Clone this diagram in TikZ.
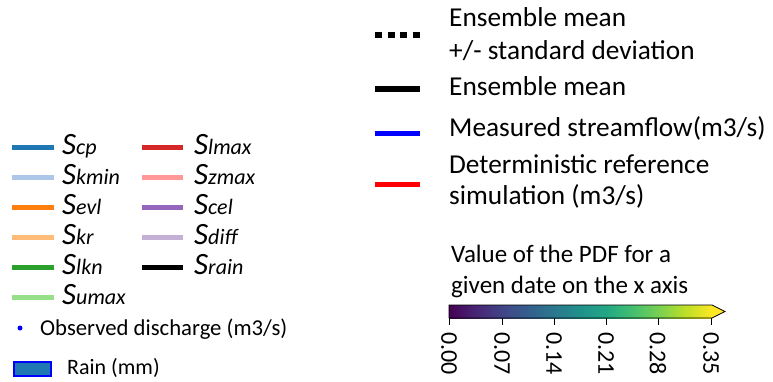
\documentclass[tikz,border=0pt]{standalone}
\usepackage{fontspec}
\setmainfont{Carlito}
\definecolor{vA}{HTML}{440154}
\definecolor{vB}{HTML}{482475}
\definecolor{vC}{HTML}{414487}
\definecolor{vD}{HTML}{355F8D}
\definecolor{vE}{HTML}{2A788E}
\definecolor{vF}{HTML}{21918C}
\definecolor{vG}{HTML}{22A884}
\definecolor{vH}{HTML}{44BF70}
\definecolor{vI}{HTML}{7AD151}
\definecolor{vJ}{HTML}{BDDF26}
\definecolor{vK}{HTML}{FDE725}
\pgfdeclarehorizontalshading{viridis}{100bp}{
 color(0bp)=(vA); color(25bp)=(vA); color(30bp)=(vB); color(35bp)=(vC); color(40bp)=(vD);
 color(45bp)=(vE); color(50bp)=(vF); color(55bp)=(vG); color(60bp)=(vH);
 color(65bp)=(vI); color(70bp)=(vJ); color(75bp)=(vK); color(100bp)=(vK)}
\definecolor{cScp}{HTML}{1F77B4}
\definecolor{cSkmin}{HTML}{AEC7E8}
\definecolor{cSevl}{HTML}{FF7F0E}
\definecolor{cSkr}{HTML}{FFBB78}
\definecolor{cSlkn}{HTML}{2CA02C}
\definecolor{cSumax}{HTML}{98DF8A}
\definecolor{cSlmax}{HTML}{D62728}
\definecolor{cSzmax}{HTML}{FF9896}
\definecolor{cScel}{HTML}{9467BD}
\definecolor{cSdiff}{HTML}{C5B0D5}
\definecolor{measblue}{HTML}{0000FF}
\definecolor{detred}{HTML}{FF0000}
\newcommand{\slab}[2]{{\fontsize{31}{31}\selectfont\itshape #1}{\fontsize{22}{22}\selectfont\itshape #2}}
\begin{document}
\begin{tikzpicture}[x=1pt,y=-1pt,
  lbl/.style={anchor=base west,inner sep=0pt},
  bigtxt/.style={lbl,font=\fontsize{27.3}{30}\selectfont},
  cbtxt/.style={lbl,font=\fontsize{25}{30}\selectfont},
  smtxt/.style={lbl,font=\fontsize{22.7}{26}\selectfont},
  raintxt/.style={lbl,font=\fontsize{22}{26}\selectfont},
  keyline/.style={line width=5pt},
  tick/.style={font=\fontsize{24}{24}\selectfont,rotate=-90,anchor=west,inner sep=0pt}]
\useasboundingbox (0,0) rectangle (773,381);
% right legend
\coordinate (d1) at (375,35); \coordinate (d2) at (420,35);
\draw[line width=6pt,dash pattern=on 7pt off 5.5pt] (d1) -- (d2);
\node[bigtxt] (t1) at (449,26) {Ensemble mean};
\node[bigtxt] (t2) at (449,59) {+/- standard deviation};
\coordinate (m1) at (375,89); \coordinate (m2) at (420,89);
\draw[line width=6pt] (m1) -- (m2);
\node[bigtxt] (t3) at (449,95) {Ensemble mean};
\coordinate (b1) at (375,133); \coordinate (b2) at (420,133);
\draw[keyline,measblue] (b1) -- (b2);
\node[bigtxt] (t4) at (449,136) {Measured streamflow(m3/s)};
\coordinate (r1) at (375,184); \coordinate (r2) at (420,184);
\draw[keyline,detred] (r1) -- (r2);
\node[bigtxt] (t5) at (449,173) {Deterministic reference};
\node[bigtxt] (t6) at (449,204) {simulation (m3/s)};
% colorbar
\node[cbtxt] (c1) at (451,262) {Value of the PDF for a};
\node[cbtxt] (c2) at (451,293) {given date on the x axis};
\shade[shading=viridis] (449,305) rectangle (712,318);
\fill[vK] (712,305) -- (725,311.5) -- (712,318) -- cycle;
\draw[line width=0.8pt] (449,305) -- (712,305) -- (725,311.5) -- (712,318) -- (449,318) -- cycle;
\foreach \x/\l [count=\i] in {449/0.00,502/0.07,554/0.14,606/0.21,658/0.28,711/0.35}{
  \draw[line width=0.9pt] (\x,318) -- (\x,325);
  \node[tick] (k\i) at (\x,332) {\l};
}
% left legend column 1
\foreach \y/\c/\s/\t [count=\i] in {147/cScp/S/cp,177/cSkmin/S/kmin,207/cSevl/S/evl,237/cSkr/S/kr,267/cSlkn/S/lkn,297/cSumax/S/umax}{
  \draw[keyline,\c] (12,\y) -- (54,\y);
  \node[lbl] (a\i) at (62,\y+7) {\slab{\s}{\t}};
}
\foreach \y/\c/\s/\t [count=\i] in {147/cSlmax/S/lmax,177/cSzmax/S/zmax,207/cScel/S/cel,237/cSdiff/S/diff,267/black/S/rain}{
  \draw[keyline,\c] (142,\y) -- (183,\y);
  \node[lbl] (b\i) at (194,\y+7) {\slab{\s}{\t}};
}
\fill[measblue] (20,328) circle (2.5pt);
\node[smtxt] (obs) at (40,335) {Observed discharge (m3/s)};
\draw[measblue,fill=cScp,line width=1.5pt] (14,362) rectangle (51,376);
\node[raintxt] (rain) at (67,374) {Rain (mm)};
\end{tikzpicture}
\end{document}
